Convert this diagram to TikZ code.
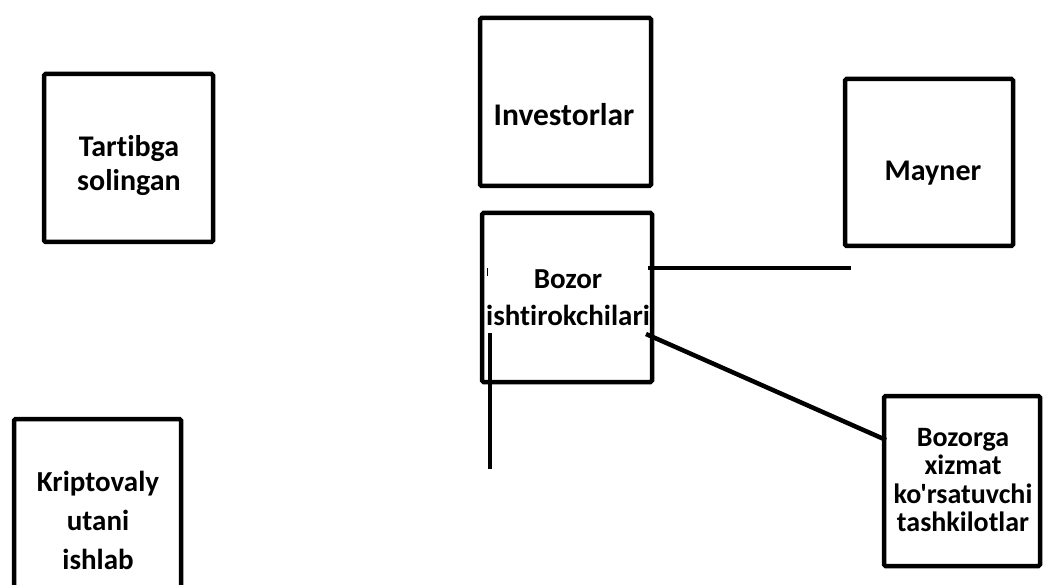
\documentclass[tikz,border=0pt]{standalone}
\usepackage{fontspec}
\setmainfont{Carlito}[Ligatures={TeXOff,NoCommon}]
\begin{document}
\begin{tikzpicture}[x=1pt,y=-1pt,
  box/.style={draw=black,line width=4.5pt,rounded corners=1.5pt},
  lbl/.style={align=center,inner sep=0pt},
  conn/.style={draw=black,line width=4.5pt}]
\useasboundingbox (0,0) rectangle (1044,585);
% boxes
\draw[box] (44,74) rectangle (213,242);
\draw[box] (14,419) rectangle (181,620);
\draw[box] (480,18) rectangle (651,186);
\draw[box] (482,213) rectangle (652,382);
\draw[box] (845,79) rectangle (1013,246);
\draw[box] (884,396) rectangle (1040,566);
% labels
\node[lbl,font=\bfseries\fontsize{30}{34}\selectfont] (tart) at (129,166) {Tartibga\\solingan};
\node[lbl,font=\bfseries\fontsize{29}{39}\selectfont] (krip) at (98,520) {Kriptovaly\\utani\\ishlab};
\node[lbl,font=\bfseries\fontsize{31.5}{36}\selectfont] (inv) at (564,115) {Investorlar};
\node[lbl,font=\bfseries\fontsize{29}{37}\selectfont] (boz) at (568,298) {Bozor\\ishtirokchilari};
\node[lbl,font=\bfseries\fontsize{30}{36}\selectfont] (may) at (933,173) {Mayner};
\node[lbl,font=\bfseries\fontsize{28}{28.5}\selectfont] (xiz) at (963,480) {Bozorga\\xizmat\\ko'rsatuvchi\\tashkilotlar};
% connector ends
\coordinate (h1) at (648,268);
\coordinate (h2) at (851,268);
\coordinate (d1) at (646,334);
\coordinate (d2) at (886,440);
\coordinate (v1) at (490,333);
\coordinate (v2) at (490,469);
\coordinate (t1) at (487,268);
\coordinate (t2) at (487,276);
\draw[conn] (h1) -- (h2);
\draw[conn] (d1) -- (d2);
\draw[conn] (v1) -- (v2);
\draw[draw=black,line width=1pt] (t1) -- (t2);
\end{tikzpicture}
\end{document}
